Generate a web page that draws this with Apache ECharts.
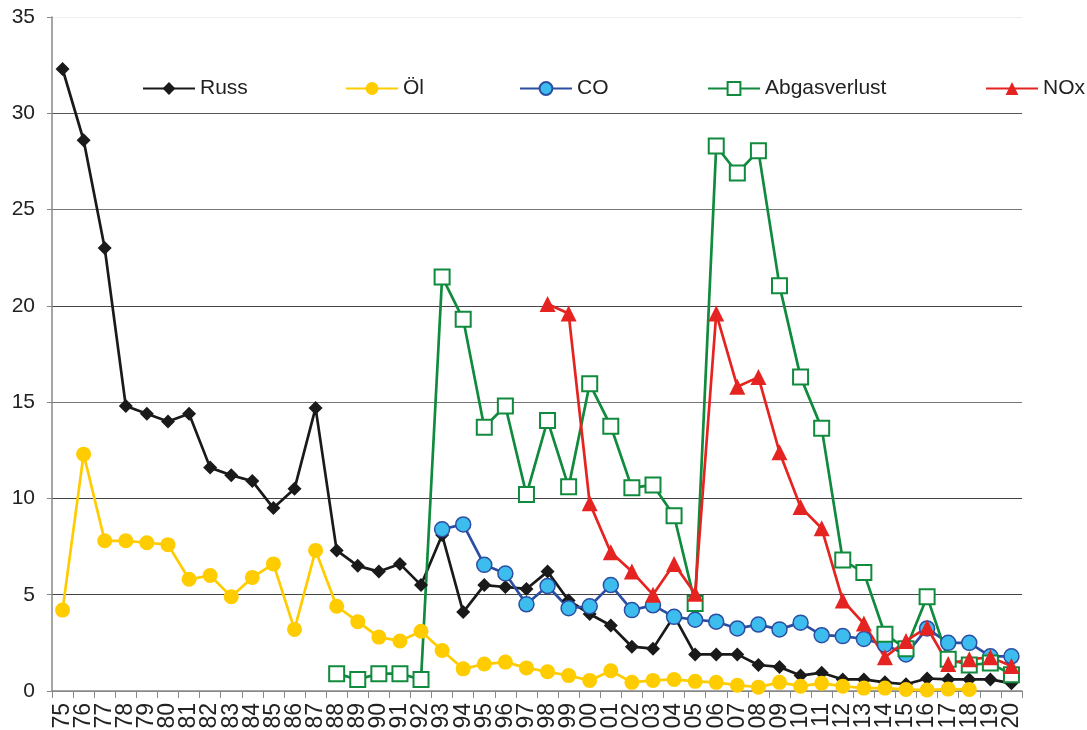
<!DOCTYPE html>
<html>
  <head>
    <title>Emissionen</title>
    <meta http-equiv="content-type" content="text/html; charset=UTF-8">
    <script src="https://cdn.jsdelivr.net/npm/echarts@6/dist/echarts.min.js"></script>
    <style>
      body { margin: 0; background: #fff; }
      #main { width: 1087px; height: 730px; }
    </style>
  </head>
  <body>
    <div id="main"></div>
  <script type="text/javascript">

// jahre 1975 - 2020
var years = ['75','76','77','78','79','80','81','82','83','84','85','86','87','88','89','90','91','92','93','94','95','96','97','98','99',
             '00','01','02','03','04','05','06','07','08','09','10','11','12','13','14','15','16','17','18','19','20'];

var yTicks = [0, 5, 10, 15, 20, 25, 30, 35];

var russ = [32.3, 28.6, 23.0, 14.8, 14.4, 14.0, 14.4, 11.6, 11.2, 10.9,
            9.5, 10.5, 14.7, 7.3, 6.5, 6.2, 6.6, 5.5, 8.1, 4.1,
            5.5, 5.4, 5.3, 6.2, 4.7,
            4.0, 3.4, 2.3, 2.2, 3.9, 1.9, 1.9, 1.9, 1.35, 1.25,
            0.8, 0.95, 0.6, 0.6, 0.45, 0.35, 0.65, 0.6, 0.6, 0.6, 0.4];

var oel = [4.2, 12.3, 7.8, 7.8, 7.7, 7.6, 5.8, 6.0, 4.9, 5.9,
           6.6, 3.2, 7.3, 4.4, 3.6, 2.8, 2.6, 3.1, 2.1, 1.15,
           1.4, 1.5, 1.2, 1.0, 0.8,
           0.55, 1.05, 0.45, 0.55, 0.6, 0.5, 0.45, 0.3, 0.2, 0.45,
           0.25, 0.4, 0.25, 0.15, 0.15, 0.08, 0.05, 0.1, 0.08, null, null];

var co = [null, null, null, null, null, null, null, null, null, null,
          null, null, null, null, null, null, null, null, 8.4, 8.65,
          6.55, 6.1, 4.5, 5.45, 4.3,
          4.4, 5.5, 4.2, 4.45, 3.85, 3.7, 3.6, 3.25, 3.45, 3.2,
          3.55, 2.9, 2.85, 2.7, 2.4, 1.9, 3.25, 2.5, 2.5, 1.8, 1.8];

var abgas = [null, null, null, null, null, null, null, null, null, null,
             null, null, null, 0.9, 0.6, 0.9, 0.9, 0.6, 21.5, 19.3,
             13.7, 14.8, 10.2, 14.05, 10.6,
             15.95, 13.75, 10.55, 10.7, 9.1, 4.55, 28.3, 26.9, 28.05, 21.05,
             16.3, 13.65, 6.8, 6.15, 2.95, 2.2, 4.9, 1.65, 1.35, 1.45, 0.85];

var nox = [null, null, null, null, null, null, null, null, null, null,
           null, null, null, null, null, null, null, null, null, null,
           null, null, null, 20.1, 19.6,
           9.75, 7.2, 6.2, 5.0, 6.6, 5.05, 19.6, 15.8, 16.3, 12.4,
           9.55, 8.45, 4.7, 3.5, 1.75, 2.6, 3.3, 1.4, 1.65, 1.75, 1.3];

var myChart = echarts.init(document.getElementById('main'));

var font = 'Liberation Sans, Arial, sans-serif';

function legendAt(name, x){
  return {
    data: [name],
    left: x,
    top: 78,
    padding: 0,
    itemWidth: 52,
    itemHeight: 16,
    selectedMode: false,
    textStyle: { fontFamily: font, fontSize: 21, color: '#222' }
  };
}

function lineSeries(name, data, color, symbol, size, itemStyle){
  return {
    name: name,
    type: 'line',
    data: data,
    symbol: symbol,
    symbolSize: size,
    showAllSymbol: true,
    connectNulls: false,
    animation: false,
    lineStyle: { color: color, width: 2.7 },
    itemStyle: itemStyle
  };
}

var option = {
  backgroundColor: '#fff',
  animation: false,
  legend: [
    legendAt('Russ', 142),
    legendAt('Öl', 345),
    legendAt('CO', 519),
    legendAt('Abgasverlust', 707),
    legendAt('NOx', 985)
  ],
  grid: {
    left: 52,
    right: 65,
    top: 17,
    bottom: 39,
    containLabel: false,
    outerBoundsMode: 'none'
  },
  xAxis: {
    type: 'category',
    data: years,
    boundaryGap: true,
    axisLine: { lineStyle: { color: '#888', width: 1.5 } },
    axisTick: { show: true, length: 7, interval: 0, lineStyle: { color: '#888' } },
    axisLabel: {
      interval: 0,
      rotate: 90,
      margin: 12,
      fontFamily: font,
      fontSize: 23,
      color: '#222'
    },
    splitLine: { show: false }
  },
  yAxis: {
    type: 'value',
    min: yTicks[0],
    max: yTicks[yTicks.length - 1],
    interval: 5,
    axisLine: { show: true, lineStyle: { color: '#888', width: 1.5 } },
    axisTick: { show: true, length: 5, lineStyle: { color: '#888' } },
    axisLabel: {
      margin: 17,
      fontFamily: font,
      fontSize: 21,
      color: '#222'
    },
    splitLine: {
      show: true,
      lineStyle: { color: ['#888', '#444', '#444', '#777', '#444', '#777', '#555', '#eee'], width: 1 }
    }
  },
  series: [
    lineSeries('Russ', russ, '#1a1a1a', 'diamond', 14, { color: '#1a1a1a' }),
    lineSeries('Öl', oel, '#ffcc00', 'circle', 15, { color: '#ffcc00' }),
    lineSeries('CO', co, '#2b4ea2', 'circle', 15, { color: '#3dbdee', borderColor: '#2b4ea2', borderWidth: 1.5 }),
    lineSeries('Abgasverlust', abgas, '#108a3c', 'rect', 15, { color: '#fff', borderColor: '#108a3c', borderWidth: 2 }),
    lineSeries('NOx', nox, '#e52421', 'triangle', 16, { color: '#e52421' })
  ]
};

myChart.setOption(option);

  </script>
  </body>
</html>
